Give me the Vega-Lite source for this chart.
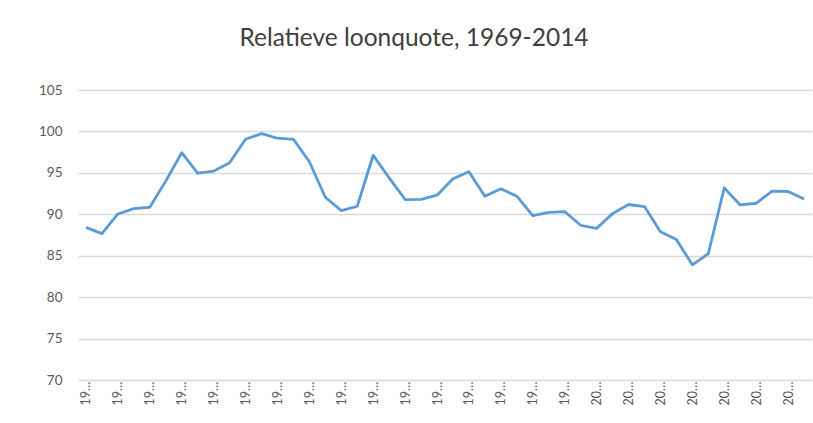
{
  "$schema": "https://vega.github.io/schema/vega-lite/v6.json",
  "autosize": {"type": "none"},
  "padding": {"left": 78, "top": 90, "right": 1, "bottom": 43},
  "width": 734,
  "height": 290,
  "background": "white",
  "title": {
    "text": "Relatieve loonquote, 1969-2014",
    "font": "Lato",
    "fontSize": 24.5,
    "fontWeight": "normal",
    "color": "#404040",
    "anchor": "middle",
    "dx": -31,
    "offset": 32
  },
  "data": {
    "values": [
      {"jaar": 1969, "loonquote": 88.42},
      {"jaar": 1970, "loonquote": 87.66},
      {"jaar": 1971, "loonquote": 90.04},
      {"jaar": 1972, "loonquote": 90.69},
      {"jaar": 1973, "loonquote": 90.85},
      {"jaar": 1974, "loonquote": 94.0},
      {"jaar": 1975, "loonquote": 97.43},
      {"jaar": 1976, "loonquote": 94.97},
      {"jaar": 1977, "loonquote": 95.21},
      {"jaar": 1978, "loonquote": 96.22},
      {"jaar": 1979, "loonquote": 99.05},
      {"jaar": 1980, "loonquote": 99.73},
      {"jaar": 1981, "loonquote": 99.18},
      {"jaar": 1982, "loonquote": 99.05},
      {"jaar": 1983, "loonquote": 96.34},
      {"jaar": 1984, "loonquote": 92.06},
      {"jaar": 1985, "loonquote": 90.45},
      {"jaar": 1986, "loonquote": 90.97},
      {"jaar": 1987, "loonquote": 97.12},
      {"jaar": 1988, "loonquote": 94.4},
      {"jaar": 1989, "loonquote": 91.78},
      {"jaar": 1990, "loonquote": 91.8},
      {"jaar": 1991, "loonquote": 92.3},
      {"jaar": 1992, "loonquote": 94.28},
      {"jaar": 1993, "loonquote": 95.13},
      {"jaar": 1994, "loonquote": 92.18},
      {"jaar": 1995, "loonquote": 93.07},
      {"jaar": 1996, "loonquote": 92.18},
      {"jaar": 1997, "loonquote": 89.84},
      {"jaar": 1998, "loonquote": 90.24},
      {"jaar": 1999, "loonquote": 90.33},
      {"jaar": 2000, "loonquote": 88.67},
      {"jaar": 2001, "loonquote": 88.3},
      {"jaar": 2002, "loonquote": 90.08},
      {"jaar": 2003, "loonquote": 91.18},
      {"jaar": 2004, "loonquote": 90.93},
      {"jaar": 2005, "loonquote": 87.9},
      {"jaar": 2006, "loonquote": 86.97},
      {"jaar": 2007, "loonquote": 83.9},
      {"jaar": 2008, "loonquote": 85.24},
      {"jaar": 2009, "loonquote": 93.19},
      {"jaar": 2010, "loonquote": 91.13},
      {"jaar": 2011, "loonquote": 91.33},
      {"jaar": 2012, "loonquote": 92.79},
      {"jaar": 2013, "loonquote": 92.75},
      {"jaar": 2014, "loonquote": 91.85}
    ]
  },
  "mark": {"type": "line", "color": "#5B9BD5", "strokeWidth": 2.8, "strokeJoin": "round"},
  "encoding": {
    "x": {
      "field": "jaar",
      "type": "ordinal",
      "scale": {"type": "point", "padding": 0.5},
      "axis": {
        "title": null,
        "values": [1969, 1971, 1973, 1975, 1977, 1979, 1981, 1983, 1985, 1987, 1989, 1991, 1993, 1995, 1997, 1999, 2001, 2003, 2005, 2007, 2009, 2011, 2013],
        "labelAngle": 270,
        "labelLimit": 24,
        "labelFont": "Lato",
        "labelFontSize": 12.5,
        "labelColor": "#595959",
        "labelPadding": 1,
        "ticks": false,
        "domain": false,
        "grid": false
      }
    },
    "y": {
      "field": "loonquote",
      "type": "quantitative",
      "scale": {"domain": [70, 105], "nice": false, "zero": false},
      "axis": {
        "title": null,
        "values": [70, 75, 80, 85, 90, 95, 100, 105],
        "labelFont": "Lato",
        "labelFontSize": 13.5,
        "labelColor": "#595959",
        "labelPadding": 16,
        "ticks": false,
        "domain": false,
        "grid": true,
        "gridColor": "#D9D9D9",
        "gridWidth": 1.3
      }
    }
  },
  "config": {"view": {"stroke": null}}
}
